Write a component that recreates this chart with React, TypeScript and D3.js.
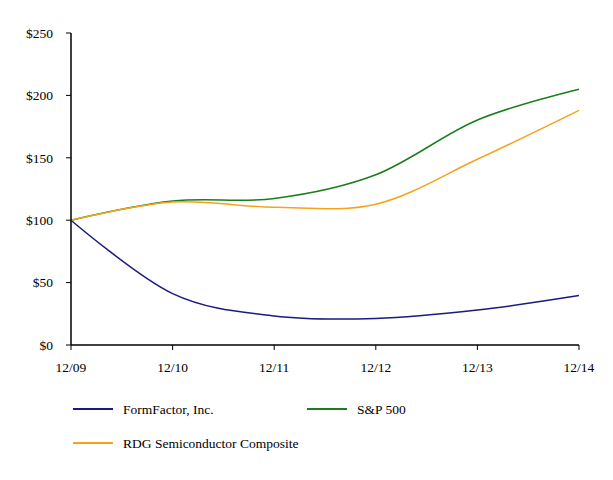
import React from "react";
import * as d3 from "d3";

const periods = ["12/09", "12/10", "12/11", "12/12", "12/13", "12/14"];
const formFactor = [100, 41.2, 23.3, 21.3, 28, 39.6];
const sp500 = [100, 115.3, 117.4, 136.4, 180.3, 205];
const rdg = [100, 114.5, 110.4, 112.8, 148.8, 188];
const yTicks = [0, 50, 100, 150, 200, 250];

const series = [
  { name: "FormFactor, Inc.", values: formFactor, color: "#1a1a80" },
  { name: "S&P 500", values: sp500, color: "#1b7d1b" },
  { name: "RDG Semiconductor Composite", values: rdg, color: "#f5a31c" },
];

const W = 613;
const H = 480;
const left = 71;
const right = 579;
const top = 33;
const bottom = 345;

export default function App() {
  const x = d3.scalePoint<string>().domain(periods).range([left, right]);
  const y = d3.scaleLinear().domain([0, 250]).range([bottom, top]);
  const line = d3
    .line<number>()
    .x((_, i) => x(periods[i]) as number)
    .y((d) => y(d))
    .curve(d3.curveCardinal.tension(0));

  const legend = [
    { s: series[0], lx: 73, ly: 409 },
    { s: series[1], lx: 307, ly: 409 },
    { s: series[2], lx: 73, ly: 443 },
  ];

  return (
    <svg
      width={W}
      height={H}
      style={{
        position: "absolute",
        left: 0,
        top: 0,
        background: "#fff",
        fontFamily: '"Liberation Serif", "DejaVu Serif", serif',
        fontSize: "13.5px",
      }}
    >
      {series.map((s) => (
        <path key={s.name} d={line(s.values) || ""} fill="none" stroke={s.color} strokeWidth={1.5} />
      ))}
      {/* y axis */}
      <line x1={left} x2={left} y1={top} y2={bottom} stroke="#000" strokeWidth={1.5} />
      {yTicks.map((t) => (
        <g key={t}>
          <line x1={left - 5} x2={left} y1={y(t)} y2={y(t)} stroke="#000" strokeWidth={1} />
          <text x={53} y={y(t)} dy="0.35em" textAnchor="end" fill="#000">
            {"$" + t}
          </text>
        </g>
      ))}
      {/* x axis */}
      <line x1={left} x2={right} y1={bottom} y2={bottom} stroke="#000" strokeWidth={1.5} />
      {periods.map((p) => (
        <g key={p}>
          <line x1={x(p)} x2={x(p)} y1={bottom} y2={bottom + 5} stroke="#000" strokeWidth={1} />
          <text x={x(p)} y={372} textAnchor="middle" fill="#000">
            {p}
          </text>
        </g>
      ))}
      {legend.map(({ s, lx, ly }) => (
        <g key={s.name}>
          <line x1={lx} x2={lx + 40} y1={ly} y2={ly} stroke={s.color} strokeWidth={2} />
          <text x={lx + 50} y={ly} dy="0.35em" fill="#000">
            {s.name}
          </text>
        </g>
      ))}
    </svg>
  );
}
